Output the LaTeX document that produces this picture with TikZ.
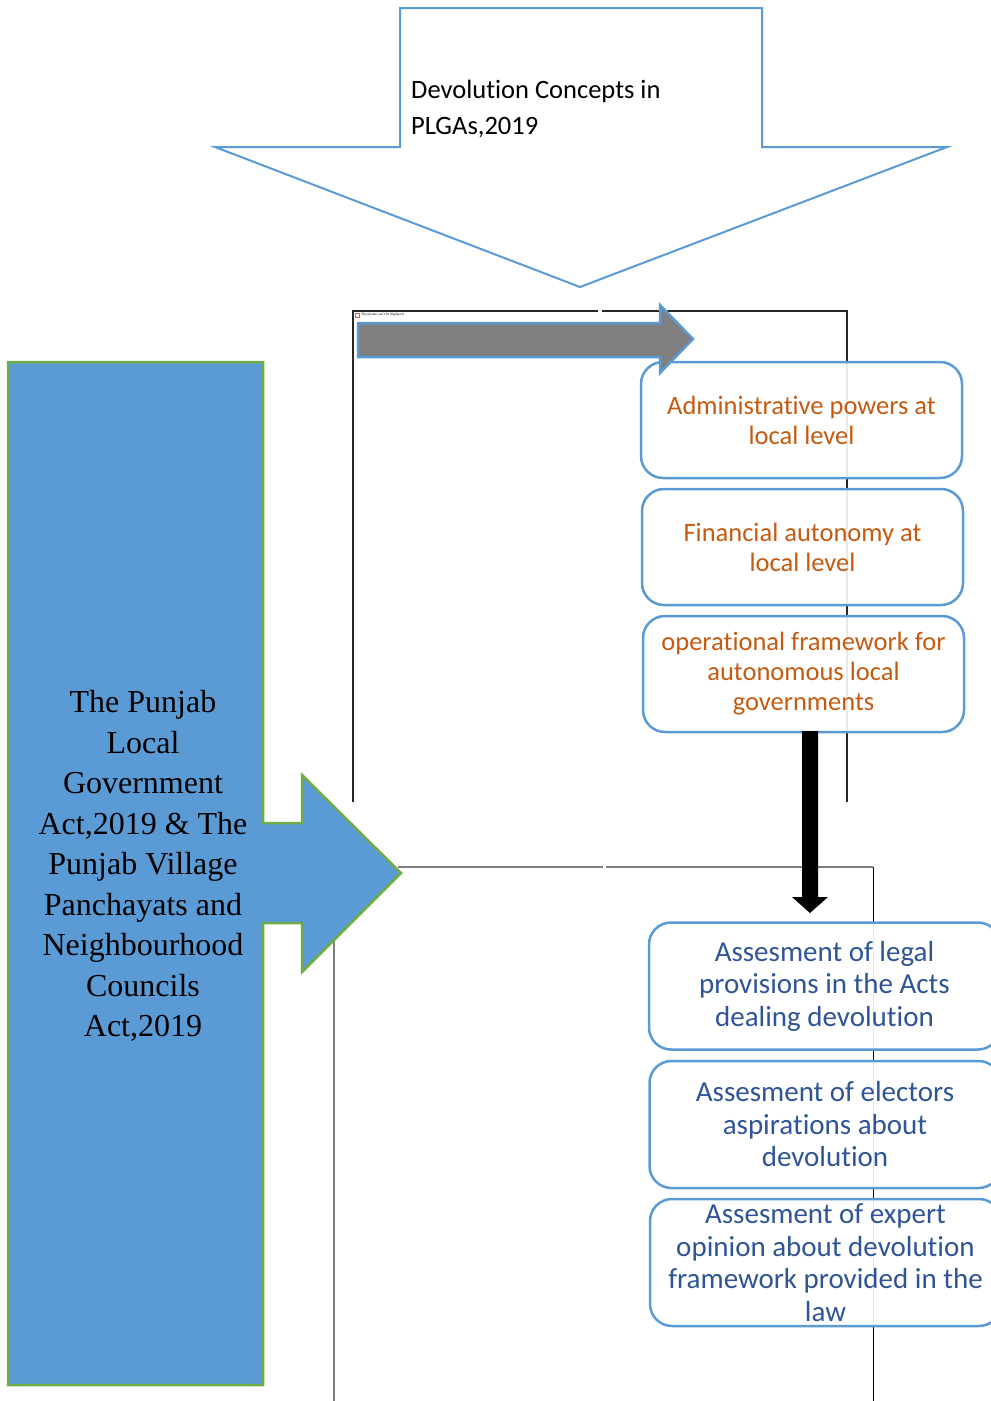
\documentclass[tikz,border=0pt]{standalone}
\usepackage{fontspec}
\setmainfont{Liberation Serif}
\newfontfamily\calibri[Ligatures=NoCommon]{Carlito}
\usetikzlibrary{shapes,arrows}

\definecolor{accblue}{HTML}{5B9BD5}
\definecolor{accgreen}{HTML}{70AD47}
\definecolor{accgray}{HTML}{7F7F7F}
\definecolor{orangetext}{HTML}{C55A11}
\definecolor{bluetext}{HTML}{2F5597}

\tikzset{
  concept/.style={draw=accblue, line width=2.5pt, rounded corners=22pt, fill=white, fill opacity=0.9, text opacity=1,
    minimum width=321pt, minimum height=116pt, inner sep=0pt, align=center,
    font=\calibri\fontsize{26.5}{30}\selectfont, text=orangetext},
  assess/.style={concept, minimum width=351pt, minimum height=127pt,
    font=\calibri\fontsize{29}{32.5}\selectfont, text=bluetext},
  frameline/.style={line width=1.3pt}
}

\begin{document}
\begin{tikzpicture}[x=1pt,y=-1pt]
  \useasboundingbox (0,0) rectangle (991,1401);
  % picture frames
  \draw[frameline, black!85] (353,802)--(353,311)--(598,311);
  \draw[frameline, black!85] (602,311)--(847,311)--(847,802);
  \draw[frameline, accgray] (398,867)--(603,867);
  \draw[frameline, accgray] (606,867)--(873,867);
  \draw[line width=1pt, black] (873,867)--(873,1401);
  \draw[frameline, accgray] (334,940)--(334,1401);
  \draw[red!70, line width=0.4pt] (355,313) rectangle (359,317);
  \node[anchor=west, inner sep=0pt, font=\fontsize{3.5}{4}\selectfont] (nopic) at (361,315) {The picture can't be displayed.};
  % devolution concepts
  \node[concept] (admin) at (801.5,420) {Administrative powers at\\local level};
  \node[concept] (finance) at (802.5,547) {Financial autonomy at\\local level};
  \node[concept] (operate) at (803.5,674) {operational framework for\\autonomous local\\governments};
  % assessments
  \node[assess] (legal) at (824.5,986) {Assesment of legal\\provisions in the Acts\\dealing devolution};
  \node[assess] (electors) at (825,1124.5) {Assesment of electors\\aspirations about\\devolution};
  \node[assess] (expert) at (825.5,1262.5) {Assesment of expert\\opinion about devolution\\framework provided in the\\law};
  % block arrows
  \draw[accblue, line width=2.5pt, fill=accgray] (358,323)--(660,323)--(660,305)--(693,339)--(660,373)--(660,357)--(358,357)--cycle;
  \fill[black] (802,731)--(818,731)--(818,897)--(828,897)--(810,913)--(792,897)--(802,897)--cycle;
  \draw[accblue, line width=2pt, fill=white] (400,8)--(762,8)--(762,147)--(947,147)--(580,287)--(215,147)--(400,147)--cycle;
  \node[anchor=west, align=left, inner sep=0pt, font=\calibri\fontsize{26.5}{36}\selectfont] (title) at (411,109) {Devolution Concepts in\\PLGAs,2019};
  \draw[accgreen, line width=2.5pt, fill=accblue] (8,362)--(263,362)--(263,823)--(302,823)--(302,775)--(401,873)--(302,972)--(302,923)--(263,923)--(263,1385)--(8,1385)--cycle;
  \node[align=center, inner sep=0pt, font=\fontsize{32}{40.5}\selectfont] (acts) at (143,866) {The Punjab\\Local\\Government\\Act,2019 \& The\\Punjab Village\\Panchayats and\\Neighbourhood\\Councils\\Act,2019};
\end{tikzpicture}
\end{document}
